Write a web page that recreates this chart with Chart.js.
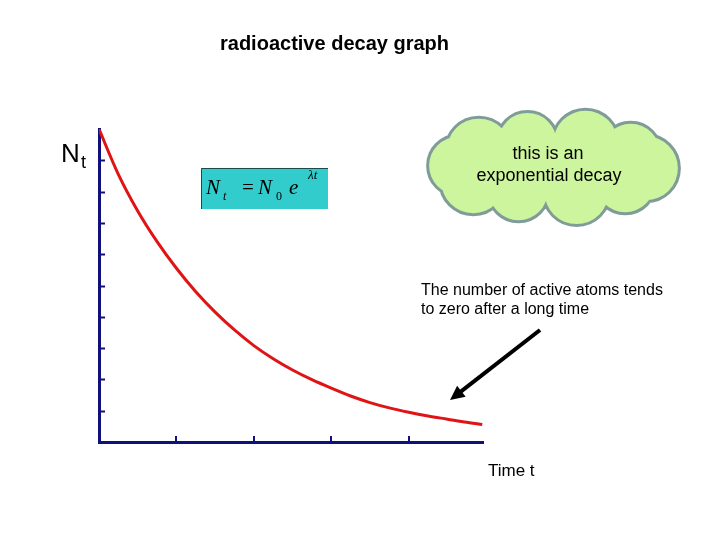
<!DOCTYPE html>
<html>
<head>
<meta charset="utf-8">
<script src="https://cdn.jsdelivr.net/npm/chart.js@4"></script>
<style>
  html, body { margin: 0; padding: 0; background: #fff; }
  #wrap { width: 720px; height: 540px; position: relative; }
</style>
</head>
<body>
<div id="wrap"><canvas id="decayChart" width="720" height="540"></canvas></div>
<script>
// values
const TIME = [0, 0.25, 0.5, 0.75, 1, 1.25, 1.5, 1.75, 2, 2.25, 2.5, 2.75, 3, 3.25, 3.5, 3.75, 4, 4.25, 4.5, 4.75, 4.95];
const ATOMS = [10, 8.55, 7.38, 6.4, 5.55, 4.8, 4.15, 3.58, 3.08, 2.66, 2.3, 1.99, 1.72, 1.47, 1.26, 1.09, 0.95, 0.83, 0.73, 0.63, 0.56];
const Y_TICKS = [1, 2, 3, 4, 5, 6, 7, 8, 9];
const X_TICKS = [1, 2, 3, 4];

const AXIS = '#10107a';
const RED = '#e01414';
const FONT = '"Liberation Sans", Arial, sans-serif';
const SERIF = '"Liberation Serif", "Times New Roman", serif';

const overlay = {
    id: 'overlay',
    afterDraw(chart) {
        const { ctx, scales: { x, y } } = chart;
        ctx.save();

        // inward tick marks
        ctx.strokeStyle = AXIS;
        ctx.lineWidth = 2;
        Y_TICKS.forEach(v => {
            const py = Math.round(y.getPixelForValue(v)) + 0.5;
            ctx.beginPath();
            ctx.moveTo(x.left, py);
            ctx.lineTo(x.left + 6, py);
            ctx.stroke();
        });
        X_TICKS.forEach(v => {
            const px = Math.round(x.getPixelForValue(v));
            ctx.beginPath();
            ctx.moveTo(px, y.bottom);
            ctx.lineTo(px, y.bottom - 6);
            ctx.stroke();
        });

        // title
        ctx.fillStyle = '#000';
        ctx.textBaseline = 'alphabetic';
        ctx.textAlign = 'left';
        ctx.font = `bold 20px ${FONT}`;
        ctx.fillText('radioactive decay graph', 220, 50);

        // N_t label
        ctx.font = `26px ${FONT}`;
        ctx.fillText('N', 61, 162);
        ctx.font = `18px ${FONT}`;
        ctx.fillText('t', 81, 168);

        // formula box
        ctx.fillStyle = '#33cccc';
        ctx.fillRect(201, 168, 127, 41);
        ctx.strokeStyle = '#1a4a4a';
        ctx.lineWidth = 1;
        ctx.beginPath();
        ctx.moveTo(201.5, 209);
        ctx.lineTo(201.5, 168.5);
        ctx.lineTo(328, 168.5);
        ctx.stroke();
        ctx.fillStyle = '#000';
        ctx.font = `italic 21px ${SERIF}`;
        ctx.fillText('N', 206, 194);
        ctx.fillText('N', 258, 194);
        ctx.fillText('e', 289, 194);
        ctx.font = `21px ${SERIF}`;
        ctx.fillText('=', 242, 194);
        ctx.font = `italic 12px ${SERIF}`;
        ctx.fillText('t', 223, 200);
        ctx.font = `12px ${SERIF}`;
        ctx.fillText('0', 276, 200);
        ctx.font = `italic 13px ${SERIF}`;
        ctx.fillText('\u03bbt', 308, 179);

        // cloud: broad scallops around an ellipse
        const cx = 552, cy = 167;
        const bumps = [];
        const n = 10;
        for (let i = 0; i < n; i++) {
            const a = (i / n) * Math.PI * 2 + 0.05;
            bumps.push([cx + 94 * Math.cos(a), cy + 26 * Math.sin(a), i % 2 ? 29 : 32]);
        }
        const cloudPath = () => {
            ctx.beginPath();
            bumps.forEach(([bx, by, r]) => {
                ctx.moveTo(bx + r, by);
                ctx.arc(bx, by, r, 0, Math.PI * 2);
            });
            ctx.ellipse(cx, cy, 100, 34, 0, 0, Math.PI * 2);
        };
        cloudPath();
        ctx.strokeStyle = '#809c98';
        ctx.lineWidth = 6;
        ctx.stroke();
        cloudPath();
        ctx.fillStyle = '#cdf59e';
        ctx.fill('nonzero');
        ctx.fillStyle = '#000';
        ctx.textAlign = 'center';
        ctx.font = `18px ${FONT}`;
        ctx.fillText('this is an', 548, 159);
        ctx.fillText('exponential decay', 549, 181);

        // note + arrow
        ctx.textAlign = 'left';
        ctx.font = `16px ${FONT}`;
        ctx.fillText('The number of active atoms tends', 421, 295);
        ctx.fillText('to zero after a long time', 421, 314);

        const x0 = 540, y0 = 330, x1 = 450, y1 = 400;
        const ang = Math.atan2(y1 - y0, x1 - x0);
        const head = 16;
        ctx.strokeStyle = '#000';
        ctx.lineWidth = 4;
        ctx.beginPath();
        ctx.moveTo(x0, y0);
        ctx.lineTo(x1 - Math.cos(ang) * 10, y1 - Math.sin(ang) * 10);
        ctx.stroke();
        ctx.fillStyle = '#000';
        ctx.beginPath();
        ctx.moveTo(x1, y1);
        ctx.lineTo(x1 - head * Math.cos(ang - 0.45), y1 - head * Math.sin(ang - 0.45));
        ctx.lineTo(x1 - head * Math.cos(ang + 0.45), y1 - head * Math.sin(ang + 0.45));
        ctx.closePath();
        ctx.fill();

        // x axis label
        ctx.font = `17px ${FONT}`;
        ctx.fillText('Time t', 488, 476);

        ctx.restore();
    }
};

new Chart(document.getElementById('decayChart'), {
    type: 'line',
    data: {
        datasets: [{
            data: TIME.map((t, i) => ({ x: t, y: ATOMS[i] })),
            borderColor: RED,
            borderWidth: 3,
            pointRadius: 0,
            cubicInterpolationMode: 'monotone',
            fill: false
        }]
    },
    options: {
        responsive: false,
        animation: false,
        layout: { padding: { left: 99, right: 237, top: 129, bottom: 98 } },
        plugins: { legend: { display: false }, tooltip: { enabled: false } },
        scales: {
            x: {
                type: 'linear', min: 0, max: 4.96,
                grid: { display: false, drawTicks: false },
                border: { display: true, color: AXIS, width: 3 },
                ticks: { display: false }
            },
            y: {
                min: 0, max: 10,
                grid: { display: false, drawTicks: false },
                border: { display: true, color: AXIS, width: 3 },
                ticks: { display: false }
            }
        }
    },
    plugins: [overlay]
});
</script>
</body>
</html>
